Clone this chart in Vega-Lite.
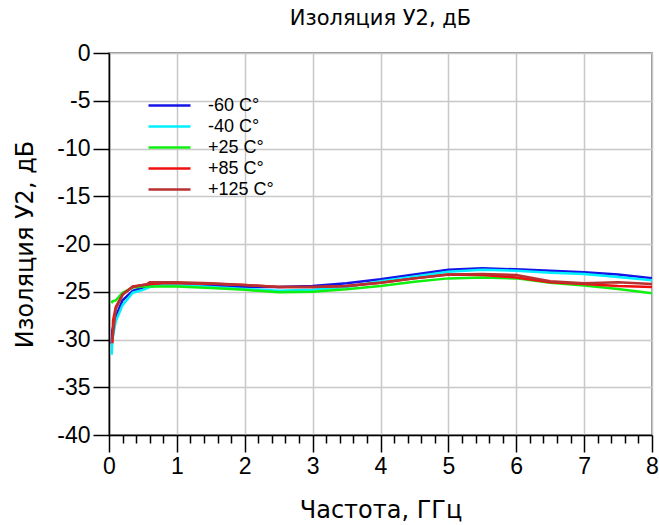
{
  "$schema": "https://vega.github.io/schema/vega-lite/v6.json",
  "autosize": "none",
  "width": 543,
  "height": 382,
  "padding": {"left": 109, "top": 53, "right": 7, "bottom": 90},
  "background": "white",
  "config": {
    "font": "Liberation Sans",
    "view": {"stroke": "#707070", "strokeWidth": 1.5},
    "axis": {"labelFont": "Liberation Sans", "titleFont": "DejaVu Sans", "labelColor": "black", "titleColor": "black", "titleFontWeight": "normal"}
  },
  "title": {"text": "Изоляция У2, дБ", "fontSize": 21, "fontWeight": "normal", "font": "DejaVu Sans", "anchor": "middle", "frame": "group", "offset": 13, "color": "black"},
  "data": {"values": [
    {"f": 0.04, "t": "-60 C°", "v": -30.5}, {"f": 0.05, "t": "-60 C°", "v": -29.0}, {"f": 0.1, "t": "-60 C°", "v": -27.6}, {"f": 0.2, "t": "-60 C°", "v": -25.9}, {"f": 0.35, "t": "-60 C°", "v": -24.9}, {"f": 0.5, "t": "-60 C°", "v": -24.55}, {"f": 0.6, "t": "-60 C°", "v": -24.4}, {"f": 0.8, "t": "-60 C°", "v": -24.3}, {"f": 1.0, "t": "-60 C°", "v": -24.3}, {"f": 1.5, "t": "-60 C°", "v": -24.4}, {"f": 2.0, "t": "-60 C°", "v": -24.5}, {"f": 2.5, "t": "-60 C°", "v": -24.5}, {"f": 3.0, "t": "-60 C°", "v": -24.4}, {"f": 3.5, "t": "-60 C°", "v": -24.1}, {"f": 4.0, "t": "-60 C°", "v": -23.7}, {"f": 4.5, "t": "-60 C°", "v": -23.2}, {"f": 5.0, "t": "-60 C°", "v": -22.7}, {"f": 5.5, "t": "-60 C°", "v": -22.55}, {"f": 6.0, "t": "-60 C°", "v": -22.65}, {"f": 6.5, "t": "-60 C°", "v": -22.8}, {"f": 7.0, "t": "-60 C°", "v": -22.95}, {"f": 7.5, "t": "-60 C°", "v": -23.2}, {"f": 8.0, "t": "-60 C°", "v": -23.6},
    {"f": 0.04, "t": "-40 C°", "v": -31.6}, {"f": 0.05, "t": "-40 C°", "v": -30.0}, {"f": 0.1, "t": "-40 C°", "v": -28.1}, {"f": 0.2, "t": "-40 C°", "v": -26.4}, {"f": 0.35, "t": "-40 C°", "v": -25.1}, {"f": 0.5, "t": "-40 C°", "v": -24.8}, {"f": 0.6, "t": "-40 C°", "v": -24.5}, {"f": 0.8, "t": "-40 C°", "v": -24.3}, {"f": 1.0, "t": "-40 C°", "v": -24.3}, {"f": 1.5, "t": "-40 C°", "v": -24.5}, {"f": 2.0, "t": "-40 C°", "v": -24.7}, {"f": 2.5, "t": "-40 C°", "v": -24.9}, {"f": 3.0, "t": "-40 C°", "v": -24.8}, {"f": 3.5, "t": "-40 C°", "v": -24.5}, {"f": 4.0, "t": "-40 C°", "v": -23.9}, {"f": 4.5, "t": "-40 C°", "v": -23.4}, {"f": 5.0, "t": "-40 C°", "v": -22.9}, {"f": 5.5, "t": "-40 C°", "v": -22.7}, {"f": 6.0, "t": "-40 C°", "v": -22.8}, {"f": 6.5, "t": "-40 C°", "v": -23.0}, {"f": 7.0, "t": "-40 C°", "v": -23.15}, {"f": 7.5, "t": "-40 C°", "v": -23.45}, {"f": 8.0, "t": "-40 C°", "v": -23.8},
    {"f": 0.04, "t": "+25 C°", "v": -26.2}, {"f": 0.05, "t": "+25 C°", "v": -26.0}, {"f": 0.1, "t": "+25 C°", "v": -25.9}, {"f": 0.2, "t": "+25 C°", "v": -25.1}, {"f": 0.35, "t": "+25 C°", "v": -24.55}, {"f": 0.5, "t": "+25 C°", "v": -24.45}, {"f": 0.8, "t": "+25 C°", "v": -24.45}, {"f": 1.0, "t": "+25 C°", "v": -24.45}, {"f": 1.5, "t": "+25 C°", "v": -24.6}, {"f": 2.0, "t": "+25 C°", "v": -24.8}, {"f": 2.5, "t": "+25 C°", "v": -25.05}, {"f": 3.0, "t": "+25 C°", "v": -25.0}, {"f": 3.5, "t": "+25 C°", "v": -24.75}, {"f": 4.0, "t": "+25 C°", "v": -24.4}, {"f": 4.5, "t": "+25 C°", "v": -23.95}, {"f": 5.0, "t": "+25 C°", "v": -23.6}, {"f": 5.5, "t": "+25 C°", "v": -23.5}, {"f": 6.0, "t": "+25 C°", "v": -23.6}, {"f": 6.5, "t": "+25 C°", "v": -24.05}, {"f": 7.0, "t": "+25 C°", "v": -24.35}, {"f": 7.5, "t": "+25 C°", "v": -24.7}, {"f": 8.0, "t": "+25 C°", "v": -25.15},
    {"f": 0.05, "t": "+85 C°", "v": -30.4}, {"f": 0.06, "t": "+85 C°", "v": -28.0}, {"f": 0.1, "t": "+85 C°", "v": -26.6}, {"f": 0.2, "t": "+85 C°", "v": -25.3}, {"f": 0.35, "t": "+85 C°", "v": -24.45}, {"f": 0.5, "t": "+85 C°", "v": -24.3}, {"f": 0.6, "t": "+85 C°", "v": -24.2}, {"f": 0.8, "t": "+85 C°", "v": -24.1}, {"f": 1.0, "t": "+85 C°", "v": -24.1}, {"f": 1.5, "t": "+85 C°", "v": -24.15}, {"f": 2.0, "t": "+85 C°", "v": -24.3}, {"f": 2.5, "t": "+85 C°", "v": -24.5}, {"f": 3.0, "t": "+85 C°", "v": -24.5}, {"f": 3.5, "t": "+85 C°", "v": -24.4}, {"f": 4.0, "t": "+85 C°", "v": -24.05}, {"f": 4.5, "t": "+85 C°", "v": -23.6}, {"f": 5.0, "t": "+85 C°", "v": -23.2}, {"f": 5.5, "t": "+85 C°", "v": -23.25}, {"f": 6.0, "t": "+85 C°", "v": -23.5}, {"f": 6.5, "t": "+85 C°", "v": -24.0}, {"f": 7.0, "t": "+85 C°", "v": -24.2}, {"f": 7.5, "t": "+85 C°", "v": -24.4}, {"f": 8.0, "t": "+85 C°", "v": -24.5},
    {"f": 0.05, "t": "+125 C°", "v": -30.0}, {"f": 0.1, "t": "+125 C°", "v": -26.8}, {"f": 0.2, "t": "+125 C°", "v": -25.3}, {"f": 0.35, "t": "+125 C°", "v": -24.5}, {"f": 0.5, "t": "+125 C°", "v": -24.3}, {"f": 0.55, "t": "+125 C°", "v": -24.25}, {"f": 0.6, "t": "+125 C°", "v": -24.0}, {"f": 0.8, "t": "+125 C°", "v": -24.0}, {"f": 1.0, "t": "+125 C°", "v": -24.0}, {"f": 1.5, "t": "+125 C°", "v": -24.1}, {"f": 2.0, "t": "+125 C°", "v": -24.3}, {"f": 2.5, "t": "+125 C°", "v": -24.5}, {"f": 3.0, "t": "+125 C°", "v": -24.5}, {"f": 3.5, "t": "+125 C°", "v": -24.4}, {"f": 4.0, "t": "+125 C°", "v": -24.05}, {"f": 4.5, "t": "+125 C°", "v": -23.6}, {"f": 5.0, "t": "+125 C°", "v": -23.2}, {"f": 5.5, "t": "+125 C°", "v": -23.15}, {"f": 6.0, "t": "+125 C°", "v": -23.25}, {"f": 6.5, "t": "+125 C°", "v": -23.9}, {"f": 7.0, "t": "+125 C°", "v": -24.1}, {"f": 7.5, "t": "+125 C°", "v": -24.0}, {"f": 8.0, "t": "+125 C°", "v": -24.2}
  ]},
  "layer": [
    {
      "mark": {"type": "line", "strokeWidth": 2.5, "clip": true},
      "encoding": {
        "x": {"field": "f", "type": "quantitative", "scale": {"domain": [0, 8], "nice": false},
          "axis": {"orient": "bottom", "values": [0,1,2,3,4,5,6,7,8], "title": "Частота, ГГц", "titleFontSize": 24, "titlePadding": 20, "labelFontSize": 23, "labelPadding": 3, "tickSize": 17, "tickColor": "black", "tickWidth": 1.5, "domainColor": "black", "domainWidth": 1.5, "grid": true, "gridColor": "#c8c8c8", "gridWidth": 1.5, "labelFlush": false}},
        "y": {"field": "v", "type": "quantitative", "scale": {"domain": [-40, 0], "nice": false},
          "axis": {"values": [0,-5,-10,-15,-20,-25,-30,-35,-40], "labelExpr": "datum.value < 0 ? '-' + abs(datum.value) : '' + datum.value", "title": "Изоляция У2, дБ", "titleFontSize": 24, "titlePadding": 19, "labelFontSize": 23, "labelPadding": 3, "tickSize": 16, "tickColor": "black", "tickWidth": 1.5, "domainColor": "black", "domainWidth": 1.5, "grid": true, "gridColor": "#c8c8c8", "gridWidth": 1.5, "labelFlush": false}},
        "color": {"field": "t", "type": "nominal",
          "scale": {"domain": ["-60 C°", "-40 C°", "+25 C°", "+85 C°", "+125 C°"], "range": ["#1414e6", "#00f0ff", "#10f010", "#f01010", "#b83030"]},
          "legend": {"title": null, "orient": "none", "legendX": 38, "legendY": 42, "symbolType": "stroke", "symbolSize": 1764, "symbolStrokeWidth": 2.5, "labelFontSize": 18, "labelFont": "Liberation Sans", "labelColor": "black", "labelOffset": 16, "clipHeight": 21, "rowPadding": 0}}
      }
    },
    {
      "mark": {"type": "point", "opacity": 0},
      "encoding": {
        "x": {"field": "f", "type": "quantitative",
          "axis": {"orient": "bottom", "values": [0.2,0.4,0.6,0.8,1.2,1.4,1.6,1.8,2.2,2.4,2.6,2.8,3.2,3.4,3.6,3.8,4.2,4.4,4.6,4.8,5.2,5.4,5.6,5.8,6.2,6.4,6.6,6.8,7.2,7.4,7.6,7.8], "labels": false, "title": null, "tickSize": 8, "tickColor": "black", "tickWidth": 1.5, "domain": false, "grid": false}}
      }
    }
  ],
  "resolve": {"axis": {"x": "independent"}}
}
